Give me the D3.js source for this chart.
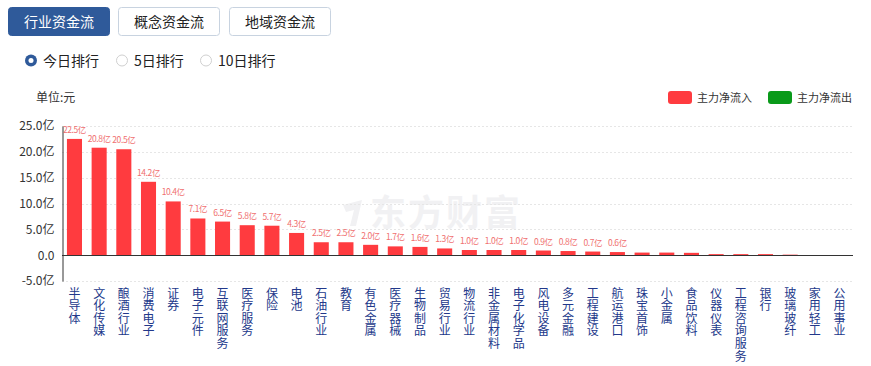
<!DOCTYPE html>
<html><head><meta charset="utf-8">
<script src="https://cdn.jsdelivr.net/npm/d3@7"></script>
<style>
body{margin:0;background:#fff;font-family:"Microsoft YaHei","Noto Sans CJK SC",sans-serif;}
svg{display:block;}
.vt{writing-mode:vertical-rl;text-orientation:upright;}
</style></head>
<body><svg id="c" width="871" height="366"></svg>
<script>
const categories = ["半导体","文化传媒","酿酒行业","消费电子","证券","电子元件","互联网服务","医疗服务","保险","电池","石油行业","教育","有色金属","医疗器械","生物制品","贸易行业","物流行业","非金属材料","电子化学品","风电设备","多元金融","工程建设","航运港口","珠宝首饰","小金属","食品饮料","仪器仪表","工程咨询服务","银行","玻璃玻纤","家用轻工","公用事业"];
const netInflow = [22.5,20.8,20.5,14.2,10.4,7.1,6.5,5.8,5.7,4.3,2.5,2.5,2.0,1.7,1.6,1.3,1.0,1.0,1.0,0.9,0.8,0.7,0.6,0.5,0.5,0.45,0.2,0.2,0.2,0.1,0.03,0.02];
const yTicks = [-5,0,5,10,15,20,25];
const yTickLabels = ["-5.0亿","0.0","5.0亿","10.0亿","15.0亿","20.0亿","25.0亿"];
const tabs = ["行业资金流","概念资金流","地域资金流"];
const radios = ["今日排行","5日排行","10日排行"];
const legendItems = ["主力净流入","主力净流出"];
const legendColors = ["#ff3b3f","#0a9a1a"];
const labelMin = 0.55;

const svg = d3.select("#c");
const FONT = '"Microsoft YaHei","Noto Sans CJK SC",sans-serif';

// tabs
const tabX = [8,118,229];
tabs.forEach((t,i)=>{
  const g = svg.append("g");
  g.append("rect").attr("x",tabX[i]+0.5).attr("y",7.5).attr("width",101).attr("height",28).attr("rx",3)
    .attr("fill", i===0?"#2f5a9a":"#fff").attr("stroke", i===0?"#2f5a9a":"#c8d3e0");
  g.append("text").attr("x",tabX[i]+51).attr("y",27).attr("text-anchor","middle")
    .attr("font-size",14).attr("font-family",FONT).attr("fill", i===0?"#fff":"#222").text(t);
});

// radios
const radioX = [31,122,206];
radios.forEach((r,i)=>{
  if(i===0){
    svg.append("circle").attr("cx",radioX[i]).attr("cy",60.5).attr("r",6).attr("fill","#2f5a9a");
    svg.append("circle").attr("cx",radioX[i]).attr("cy",60.5).attr("r",2.5).attr("fill","#fff");
  } else {
    svg.append("circle").attr("cx",radioX[i]).attr("cy",60.5).attr("r",5.5).attr("fill","#fff").attr("stroke","#d0d0d0");
  }
  svg.append("text").attr("x",radioX[i]+12).attr("y",66).attr("font-size",14).attr("font-family",FONT)
    .attr("fill","#222").text(r);
});

// unit
svg.append("text").attr("x",36).attr("y",102).attr("font-size",12).attr("font-family",FONT).attr("fill","#333").text("单位:元");

// legend
const legX = [668,768];
legendItems.forEach((l,i)=>{
  svg.append("rect").attr("x",legX[i]).attr("y",91).attr("width",24).attr("height",13).attr("rx",3).attr("fill",legendColors[i]);
  svg.append("text").attr("x",legX[i]+29).attr("y",102).attr("font-size",11).attr("font-family",FONT).attr("fill","#333").text(l);
});

// scales
const x = d3.scaleBand().domain(categories).range([62,852]).paddingInner(0.39).paddingOuter(0.2);
const y = d3.scaleLinear().domain([-5,25]).range([281,126]);

// watermark
const wm = svg.append("g");
wm.append("text").attr("x",370).attr("y",226).attr("font-size",36).attr("font-weight","bold")
  .attr("font-family",FONT).attr("fill","#f1f1f3").attr("letter-spacing",2).text("东方财富");
wm.append("path").attr("d","M343,205 L362,200 L356,226 L350,226 L354,210 L346,212 Z").attr("fill","#f1f1f3");

// grid
svg.append("g").selectAll("line").data(yTicks.filter(d=>d!==0)).join("line")
  .attr("x1",62).attr("x2",852).attr("y1",d=>Math.round(y(d))+0.5).attr("y2",d=>Math.round(y(d))+0.5)
  .attr("stroke","#e6e6e6").attr("stroke-dasharray","2,2");

// y axis
const yAxis = d3.axisLeft(y).tickValues(yTicks).tickFormat(d=>yTickLabels[yTicks.indexOf(d)]).tickSize(0).tickPadding(8);
const ga = svg.append("g").attr("transform","translate(62.5,0)").call(yAxis);
ga.select(".domain").attr("stroke","#333");
ga.selectAll("text").attr("font-size",12).attr("font-family",FONT).attr("fill","#333");

// bars
svg.append("g").selectAll("rect").data(netInflow).join("rect")
  .attr("x",(d,i)=>x(categories[i])).attr("width",x.bandwidth())
  .attr("y",d=>y(Math.max(0,d))).attr("height",d=>Math.abs(y(d)-y(0)))
  .attr("fill",d=>d>=0?legendColors[0]:legendColors[1]);

// value labels
svg.append("g").selectAll("text").data(netInflow.map((v,i)=>({v,i})).filter(d=>d.v>=labelMin)).join("text")
  .attr("x",d=>x(categories[d.i])+x.bandwidth()/2).attr("y",d=>y(d.v)-6)
  .attr("text-anchor","middle").attr("font-size",8.5).attr("letter-spacing",-0.4).attr("font-family",FONT).attr("fill","#f07070")
  .text(d=>d.v.toFixed(1)+"亿");

// zero line
svg.append("line").attr("x1",62).attr("x2",853).attr("y1",Math.round(y(0))+0.5).attr("y2",Math.round(y(0))+0.5).attr("stroke","#333");

// x labels vertical
svg.append("g").selectAll("text").data(categories).join("text")
  .attr("class","vt")
  .attr("x",d=>x(d)+x.bandwidth()/2).attr("y",287)
  .attr("font-size",12).attr("letter-spacing",0.6).attr("font-family",FONT).attr("fill","#22388a")
  .text(d=>d);
</script></body></html>
